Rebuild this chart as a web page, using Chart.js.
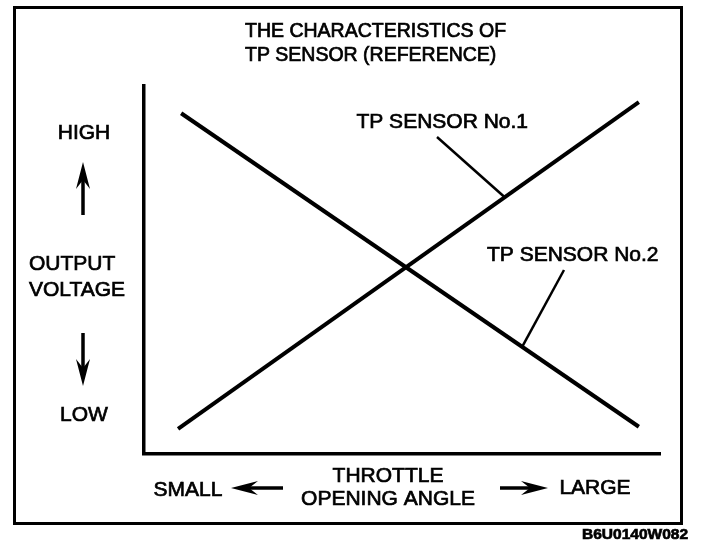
<!DOCTYPE html>
<html lang="en">
<head>
<meta charset="UTF-8" />
<title>TP Sensor</title>
<script src="https://cdn.jsdelivr.net/npm/chart.js"></script>
<style>
  html, body { margin: 0; padding: 0; background: #fff; }
  .wrap { position: relative; width: 704px; height: 552px; }
  .frame { position: absolute; left: 13px; top: 6px; width: 664px; height: 513px; border: 3px solid #000; }
  canvas { position: absolute; left: 0; top: 0; }
</style>
</head>
<body>
<div class="wrap">
  <div class="frame"></div>
  <canvas id="tpChart" width="704" height="552"></canvas>
</div>
<script>
// throttle opening angle (relative 0-100) at the ends of each line
const throttle = [6.6, 95.9];
const throttle2 = [7.2, 95.9];
// output voltage (relative 0-100)
const sensorNo1 = [6.8, 95.6];
const sensorNo2 = [92.6, 7.4];
const seriesNames = ['TP SENSOR No.1', 'TP SENSOR No.2'];

const FONT = "'Liberation Sans', Arial, sans-serif";

function text(ctx, str, x, y, size, align, weight) {
  ctx.font = (weight || 'normal') + ' ' + size + 'px ' + FONT;
  ctx.textAlign = align || 'center';
  ctx.textBaseline = 'middle';
  ctx.lineWidth = 0.7;
  ctx.fillText(str, x, y);
  ctx.strokeText(str, x, y); // scanned print looks a bit heavier
}

function arrow(ctx, x1, y1, x2, y2) {
  // shaft from (x1,y1) to tip (x2,y2), narrow filled head
  const ang = Math.atan2(y2 - y1, x2 - x1);
  const len = 27, half = 7;
  ctx.lineWidth = 3.5;
  ctx.beginPath();
  ctx.moveTo(x1, y1);
  ctx.lineTo(x2 - Math.cos(ang) * 10, y2 - Math.sin(ang) * 10);
  ctx.stroke();
  const bx = x2 - Math.cos(ang) * len, by = y2 - Math.sin(ang) * len;
  const nx = -Math.sin(ang) * half, ny = Math.cos(ang) * half;
  ctx.beginPath();
  ctx.moveTo(x2, y2);
  ctx.lineTo(bx + nx, by + ny);
  ctx.lineTo(x2 - Math.cos(ang) * 18, y2 - Math.sin(ang) * 18);
  ctx.lineTo(bx - nx, by - ny);
  ctx.closePath();
  ctx.fill();
}

function pointOn(chart, i, t) {
  const pts = chart.getDatasetMeta(i).data;
  return { x: pts[0].x + t * (pts[1].x - pts[0].x), y: pts[0].y + t * (pts[1].y - pts[0].y) };
}

const annotations = {
  id: 'annotations',
  afterDraw(chart) {
    const ctx = chart.ctx;
    ctx.save();
    ctx.fillStyle = '#000';
    ctx.strokeStyle = '#000';

    text(ctx, 'THE CHARACTERISTICS OF', 245, 32, 19.5, 'left');
    text(ctx, 'TP SENSOR (REFERENCE)', 245, 56, 19.5, 'left');

    text(ctx, 'HIGH', 84, 133, 21);
    arrow(ctx, 83, 215, 83, 162);
    text(ctx, 'OUTPUT', 29, 264, 21, 'left');
    text(ctx, 'VOLTAGE', 29, 290, 21, 'left');
    arrow(ctx, 83, 333, 83, 386);
    text(ctx, 'LOW', 84, 415, 21);

    text(ctx, 'SMALL', 188, 490, 21);
    arrow(ctx, 283, 488, 231, 488);
    text(ctx, 'THROTTLE', 388, 476, 21);
    text(ctx, 'OPENING ANGLE', 388, 499, 21);
    arrow(ctx, 500, 488, 548, 488);
    text(ctx, 'LARGE', 595, 488, 21);

    text(ctx, 'B6U0140W082', 688, 535, 15.5, 'right', 'bold');

    // series labels with leader lines
    text(ctx, seriesNames[0], 528, 122, 21, 'right');
    text(ctx, seriesNames[1], 487, 255, 21, 'left');
    ctx.lineWidth = 2.5;
    let p = pointOn(chart, 0, 0.709);
    ctx.beginPath(); ctx.moveTo(437, 137); ctx.lineTo(p.x, p.y); ctx.stroke();
    p = pointOn(chart, 1, 0.745);
    ctx.beginPath(); ctx.moveTo(564, 270); ctx.lineTo(p.x, p.y); ctx.stroke();

    ctx.restore();
  }
};

const ctx = document.getElementById('tpChart').getContext('2d');
new Chart(ctx, {
  type: 'line',
  data: {
    datasets: [{
      label: seriesNames[0],
      data: throttle.map((x, i) => ({ x: x, y: sensorNo1[i] })),
      borderColor: '#000',
      borderWidth: 4,
      pointRadius: 0,
      tension: 0
    }, {
      label: seriesNames[1],
      data: throttle2.map((x, i) => ({ x: x, y: sensorNo2[i] })),
      borderColor: '#000',
      borderWidth: 4,
      pointRadius: 0,
      tension: 0
    }]
  },
  options: {
    responsive: false,
    animation: false,
    devicePixelRatio: 1,
    layout: { padding: { left: 136, top: 86, right: 44, bottom: 90 } },
    plugins: { legend: { display: false }, tooltip: { enabled: false } },
    scales: {
      x: {
        type: 'linear', min: 0, max: 100,
        grid: { display: false },
        ticks: { display: false },
        border: { display: true, color: '#000', width: 3.5 }
      },
      y: {
        min: 0, max: 100,
        grid: { display: false },
        ticks: { display: false },
        border: { display: true, color: '#000', width: 3.5 }
      }
    }
  },
  plugins: [annotations]
});
</script>
</body>
</html>
